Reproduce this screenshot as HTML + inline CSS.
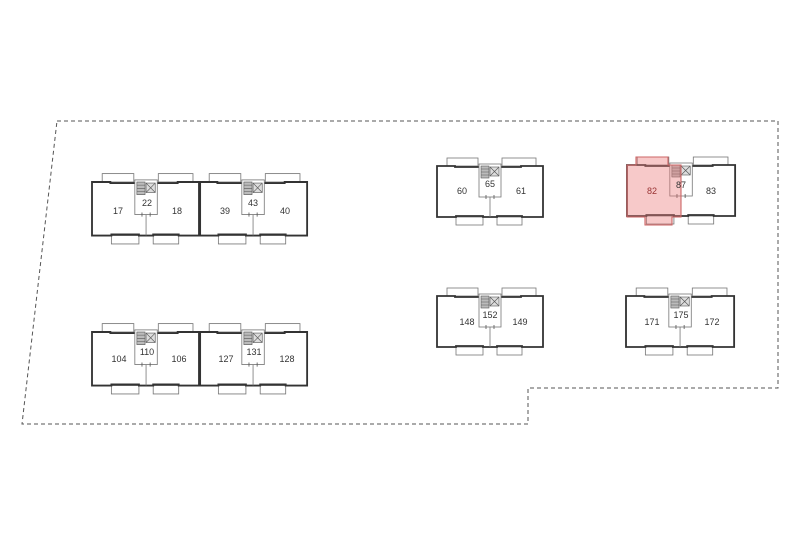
<!DOCTYPE html>
<html><head><style>
html,body{margin:0;padding:0;background:#fff;}
svg{display:block;}
text{font-family:"Liberation Sans",sans-serif;font-size:9px;fill:#333;text-anchor:middle;}
</style></head><body>
<svg width="800" height="533" viewBox="0 0 800 533" xmlns="http://www.w3.org/2000/svg">
<defs>
<g id="u">
  <rect x="10" y="-8" width="31" height="8" fill="#fff" stroke="#777" stroke-width="0.8"/>
  <rect x="65" y="-8" width="34" height="8" fill="#fff" stroke="#777" stroke-width="0.8"/>
  <rect x="19" y="51" width="27" height="8" fill="#fff" stroke="#777" stroke-width="0.8"/>
  <rect x="60" y="51" width="25" height="8" fill="#fff" stroke="#777" stroke-width="0.8"/>
  <path d="M42,1 L18,1 L18,0 L0,0 L0,51 L19,51 L19,50 L46,50 L46,51 L60,51 L60,50 L85,50 L85,51 L106,51 L106,0 L84,0 L84,1 L64,1" fill="none" stroke="#333" stroke-width="1.8"/>
  <rect x="42" y="-2" width="22" height="33" fill="#fff" stroke="#777" stroke-width="0.8"/>
  <rect x="44" y="0" width="8" height="12" fill="#bbb" stroke="#555" stroke-width="0.6"/>
  <path d="M44,3 H52 M44,6 H52 M44,9 H52" stroke="#555" stroke-width="0.5"/>
  <rect x="53" y="1" width="9" height="9" fill="#ddd" stroke="#555" stroke-width="0.6"/>
  <path d="M53,1 L62,10 M62,1 L53,10" stroke="#555" stroke-width="0.6"/>
  <path d="M53,31 V51" stroke="#777" stroke-width="0.8"/>
  <path d="M49,29 V33 M57,29 V33" stroke="#555" stroke-width="0.8"/>
</g>
</defs>
<polygon points="57,121 778,121 778,388 528,388 528,424 22,424" fill="none" stroke="#555" stroke-width="1" stroke-dasharray="4,3"/>

<use href="#u" transform="translate(92,182) scale(1.02,1.05)"/>
<use href="#u" transform="translate(199,182) scale(1.02,1.05)"/>
<text x="118" y="214">17</text><text x="147" y="206">22</text><text x="177" y="214">18</text>
<text x="225" y="214">39</text><text x="253" y="206">43</text><text x="285" y="214">40</text>

<use href="#u" transform="translate(92,332) scale(1.02,1.05)"/>
<use href="#u" transform="translate(199,332) scale(1.02,1.05)"/>
<text x="119" y="362">104</text><text x="147" y="355">110</text><text x="179" y="362">106</text>
<text x="226" y="362">127</text><text x="254" y="355">131</text><text x="287" y="362">128</text>

<use href="#u" transform="translate(437,166)"/>
<text x="462" y="194">60</text><text x="490" y="187">65</text><text x="521" y="194">61</text>

<use href="#u" transform="translate(627,165) scale(1.02,1)"/>
<path d="M636,157 H668 V165 H681 V217 H672 V225 H645 V217 H627 V165 H636 Z" fill="rgba(235,120,120,0.4)" stroke="#c66" stroke-width="1.1"/>
<text x="652" y="194" style="fill:#933">82</text><text x="681" y="188">87</text><text x="711" y="194">83</text>

<use href="#u" transform="translate(437,296)"/>
<text x="467" y="325">148</text><text x="490" y="318">152</text><text x="520" y="325">149</text>

<use href="#u" transform="translate(626,296) scale(1.02,1)"/>
<text x="652" y="325">171</text><text x="681" y="318">175</text><text x="712" y="325">172</text>
</svg>
</body></html>
